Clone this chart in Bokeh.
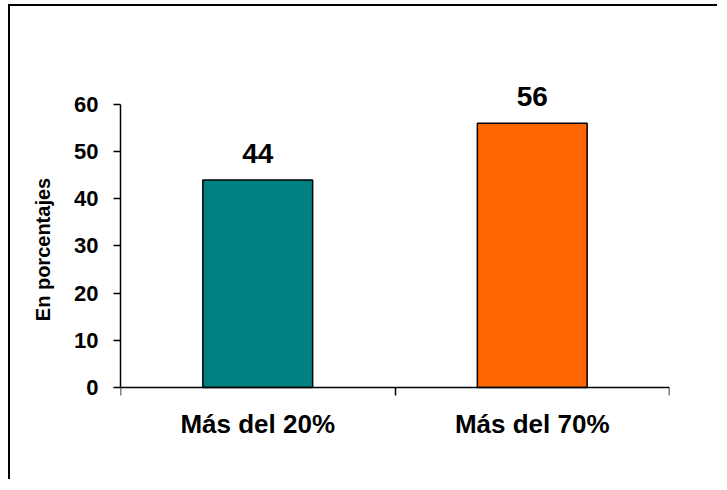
from bokeh.plotting import figure
from bokeh.models import FixedTicker, LabelSet, ColumnDataSource, Range1d
from bokeh.core.properties import value
from bokeh.embed import file_html
from bokeh.resources import INLINE

categories = ["Más del 20%", "Más del 70%"]
values = [44, 56]
colors = ["#008080", "#FF6600"]
y_ticks = [0, 10, 20, 30, 40, 50, 60]
y_label = "En porcentajes"

xs = [i + 0.5 for i in range(len(categories))]
src = ColumnDataSource(dict(x=xs, top=values, color=colors,
                            label=[str(v) for v in values]))

p = figure(width=709, height=475, x_range=Range1d(0, len(categories)),
           y_range=Range1d(-19.5, 78), output_backend="svg", toolbar_location=None,
           min_border_left=110, min_border_right=50, min_border_top=13,
           min_border_bottom=2)
p.styles = {"border-left": "2px solid #000", "border-top": "2px solid #000",
            "margin-left": "8px", "margin-top": "4px"}
p.outline_line_color = None
p.xgrid.visible = False
p.ygrid.visible = False
p.background_fill_color = "white"
p.border_fill_color = "white"

p.vbar(x="x", top="top", width=0.4, bottom=0, fill_color="color",
       line_color="black", line_width=1.5, source=src)

labels = LabelSet(x="x", y="top", text="label", source=src, y_offset=17,
                  text_align="center", text_baseline="alphabetic",
                  text_font=value("Liberation Sans"), text_font_style="bold",
                  text_font_size="28px", text_color="black")
p.add_layout(labels)

# y axis
ya = p.yaxis[0]
ya.ticker = FixedTicker(ticks=y_ticks, minor_ticks=[])
ya.bounds = (0, 60)
ya.axis_line_color = "black"
ya.axis_line_width = 1.5
ya.major_tick_line_color = "black"
ya.major_tick_line_width = 1.5
ya.major_tick_out = 7
ya.major_tick_in = 0
ya.minor_tick_line_color = None
ya.major_label_standoff = 15
ya.major_label_text_font = "Liberation Sans"
ya.major_label_text_font_style = "bold"
ya.major_label_text_font_size = "22px"
ya.major_label_text_color = "black"
ya.axis_label = y_label
ya.axis_label_text_font = "Liberation Sans"
ya.axis_label_text_font_style = "bold"
ya.axis_label_text_font_size = "20px"
ya.axis_label_text_color = "black"
ya.axis_label_standoff = 17

# x axis
xa = p.xaxis[0]
xa.fixed_location = 0
xa.ticker = FixedTicker(ticks=xs, minor_ticks=list(range(len(categories) + 1)))
xa.major_label_overrides = {x: c for x, c in zip(xs, categories)}
xa.axis_line_color = "black"
xa.axis_line_width = 1.5
xa.major_tick_line_color = None
xa.major_tick_out = 0
xa.major_tick_in = 0
xa.minor_tick_line_color = "black"
xa.minor_tick_line_width = 1.5
xa.minor_tick_out = 8
xa.minor_tick_in = 0
xa.major_label_standoff = 13
xa.major_label_text_font = "Liberation Sans"
xa.major_label_text_font_style = "bold"
xa.major_label_text_font_size = "26px"
xa.major_label_text_color = "black"

open("out.html", "w").write(file_html(p, INLINE))
